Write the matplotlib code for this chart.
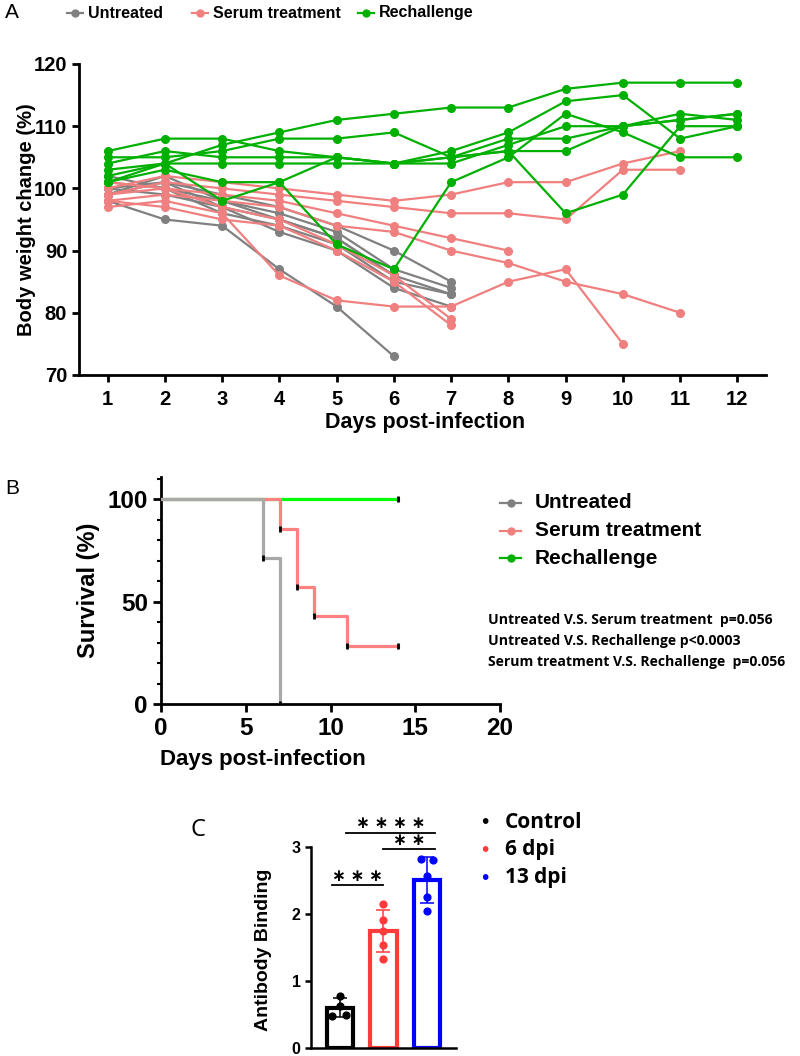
import numpy as np
import matplotlib
matplotlib.use("Agg")
from matplotlib import pyplot as plt
from matplotlib.lines import Line2D

plt.rcParams['font.family'] = ['Liberation Sans', 'DejaVu Sans']

# ---- panel A: body weight (%) per mouse, day 1 onwards
days = list(range(1, 13))
untreated = [
    [98, 95, 94, 87, 81, 73],
    [100, 101, 99, 97, 94, 90, 85],
    [101, 100, 98, 96, 93, 87, 84],
    [99, 101, 97, 95, 92, 86, 83],
    [102, 100, 96, 94, 91, 85, 83],
    [100, 99, 97, 93, 90, 84, 81],
    [99, 102, 98, 95, 92, 86],
]
serum = [
    [100, 102, 101, 100, 99, 98, 99, 101, 101, 104, 106],
    [99, 101, 100, 99, 98, 97, 96, 96, 95, 103, 103],
    [101, 100, 99, 98, 96, 94, 92, 90],
    [98, 99, 98, 97, 94, 93, 90, 88, 85, 83, 80],
    [97, 98, 96, 86, 82, 81, 81, 85, 87, 75],
    [99, 100, 97, 95, 91, 86, 79],
    [98, 97, 95, 94, 90, 85, 78],
]
rechallenge = [
    [101, 104, 107, 109, 111, 112, 113, 113, 116, 117, 117, 117],
    [106, 108, 108, 106, 105, 104, 106, 109, 114, 115, 108, 110],
    [105, 105, 106, 108, 108, 109, 105, 106, 106, 110, 111, 112],
    [103, 104, 104, 104, 104, 104, 104, 107, 110, 110, 112, 111],
    [104, 106, 105, 105, 105, 104, 105, 106, 96, 99, 110, 110],
    [102, 104, 98, 101, 91, 87, 101, 105, 112, 109, 105, 105],
    [101, 103, 101, 101, 105, 104, 105, 108, 108, 110, 111, 112],
]
group_names = ['Untreated', 'Serum treatment', 'Rechallenge']
group_colors = ['#808080', '#F08080', '#00B000']

# ---- panel B: survival (%)
surv_untreated_t = [0, 6, 7]
surv_untreated = [100, 71.4, 0]
surv_serum_t = [0, 7, 8, 9, 11, 14]
surv_serum = [100, 85.7, 57.1, 42.9, 28.6, 28.6]
surv_rech_t = [0, 14]
surv_rech = [100, 100]
pvals = ['Untreated V.S. Serum treatment  p=0.056',
         'Untreated V.S. Rechallenge p<0.0003',
         'Serum treatment V.S. Rechallenge  p=0.056']

# ---- panel C: antibody binding
ab_groups = ['Control', '6 dpi', '13 dpi']
ab_colors = ['black', '#FF3B3B', '#0000FF']
ab_points = [
    [0.78, 0.62, 0.48, 0.49],
    [2.14, 1.91, 1.74, 1.54, 1.33],
    [2.82, 2.80, 2.57, 2.25, 2.04],
]
ab_jitter = [
    [0.0, 0.0, -0.17, 0.13],
    [0.0, 0.0, 0.0, 0.0, 0.0],
    [-0.13, 0.13, 0.0, 0.0, 0.0],
]
ab_mean = [0.60, 1.74, 2.50]
ab_sd = [0.14, 0.31, 0.34]

fig = plt.figure(figsize=(8, 10.56), dpi=100)

# ================= A
ax = fig.add_axes([0.09875, 0.6449, 0.85875, 0.2945])
for series, col in zip([untreated, serum, rechallenge], group_colors):
    for s in series:
        ax.plot(days[:len(s)], s, color=col, lw=1.6, marker='o', ms=5.5, zorder=3)
ax.set_xlim(0.5, 12.5)
ax.set_ylim(70, 120)
ax.set_xticks(days)
ax.set_yticks([70, 80, 90, 100, 110, 120])
for sp in ['top', 'right']:
    ax.spines[sp].set_visible(False)
for sp in ['left', 'bottom']:
    ax.spines[sp].set_linewidth(2)
ax.tick_params(direction='out', length=5, width=2, labelsize=14.5)
ax.tick_params(axis='x', pad=6)
for lb in ax.get_xticklabels() + ax.get_yticklabels():
    lb.set_fontweight('bold')
ax.set_ylabel('Body weight change (%)', fontsize=14.5, fontweight='bold')
ax.yaxis.set_label_coords(-0.063, 0.5)
ax.set_xlabel('Days post-infection', fontsize=15.5, fontweight='bold')
ax.xaxis.set_label_coords(0.504, -0.12)

# top legend, placed by hand
leg_x = [67, 192, 358]
for x0, name, col in zip(leg_x, group_names, group_colors):
    yy = 1 - 13 / 1056
    fig.add_artist(Line2D([x0 / 800, (x0 + 16) / 800], [yy, yy], color=col, lw=1.6))
    fig.add_artist(Line2D([(x0 + 8) / 800], [yy], color=col, marker='o', ms=5))
    fig.text((x0 + 21) / 800, yy, name, fontsize=11.5, fontweight='bold', va='center')
fig.text(0.006, 1 - 13 / 1056, 'A', fontsize=15, va='center')

# ================= B
bx = fig.add_axes([0.20125, 0.3333, 0.42375, 0.215])
bx.step(surv_rech_t, surv_rech, where='post', color='#00FF00', lw=2.3, zorder=2)
bx.step(surv_serum_t, surv_serum, where='post', color='#FF8080', lw=2.3, zorder=3)
bx.step(surv_untreated_t + [7], surv_untreated + [0], where='post', color='#A8A8A8', lw=2.3, zorder=4)
marks_t = [6, 7, 7, 8, 9, 11, 14, 14]
marks_v = [71.4, 0, 85.7, 57.1, 42.9, 28.6, 28.6, 100]
bx.plot(marks_t, marks_v, ls='none', marker='|', color='black', ms=5, mew=2, zorder=5)
bx.set_xlim(0, 20)
bx.set_ylim(0, 111)
bx.set_xticks([0, 5, 10, 15, 20])
bx.set_yticks([0, 50, 100])
bx.set_yticks(np.arange(0, 111, 10), minor=True)
for sp in ['top', 'right']:
    bx.spines[sp].set_visible(False)
for sp in ['left', 'bottom']:
    bx.spines[sp].set_linewidth(2)
bx.tick_params(direction='out', length=6, width=2, labelsize=17.5)
bx.tick_params(which='minor', direction='out', length=3, width=1.5)
for lb in bx.get_xticklabels() + bx.get_yticklabels():
    lb.set_fontweight('bold')
bx.set_ylabel('Survival (%)', fontsize=17, fontweight='bold')
bx.yaxis.set_label_coords(-0.18, 0.5)
bx.set_xlabel('Days post-infection', fontsize=16, fontweight='bold')
bx.xaxis.set_label_coords(0.30, -0.2)
fig.text(0.006, 1 - 488 / 1056, 'B', fontsize=15, va='center')

for i, (name, col) in enumerate(zip(group_names, group_colors)):
    yy = 1 - (503 + 27.5 * i) / 1056
    fig.add_artist(Line2D([500 / 800, 521 / 800], [yy, yy], color=col, lw=1.6))
    fig.add_artist(Line2D([510.5 / 800], [yy], color=col, marker='o', ms=5))
    fig.text(535 / 800, yy, name, fontsize=15, fontweight='bold', va='center')
for i, t in enumerate(pvals):
    fig.text(0.61, 1 - (620 + 21 * i) / 1056, t, fontsize=10.1, fontweight='bold',
             family=['Open Sans', 'DejaVu Sans'], va='center')

# ================= C
cx = fig.add_axes([0.38875, 0.00758, 0.18125, 0.1906])
xpos = np.arange(len(ab_groups))
for i in range(len(ab_groups)):
    cx.bar(xpos[i], ab_mean[i], width=0.6, facecolor='white', edgecolor=ab_colors[i], lw=3, zorder=2)
    cx.errorbar(xpos[i], ab_mean[i], yerr=ab_sd[i], color=ab_colors[i], capsize=5, lw=1.1,
                capthick=1.1, zorder=3)
    cx.scatter(xpos[i] + np.array(ab_jitter[i]), ab_points[i], color=ab_colors[i], s=24, zorder=4)
cx.set_xlim(-0.66, 2.66)
cx.set_ylim(0, 3)
cx.set_xticks([])
cx.set_yticks([0, 1, 2, 3])
for sp in ['top', 'right']:
    cx.spines[sp].set_visible(False)
for sp in ['left', 'bottom']:
    cx.spines[sp].set_linewidth(1.8)
cx.tick_params(direction='out', length=4, width=1.8, labelsize=11.5)
for lb in cx.get_yticklabels():
    lb.set_fontweight('bold')
cx.set_ylabel('Antibody Binding', fontsize=14, fontweight='bold')
cx.yaxis.set_label_coords(-0.27, 0.49)

# significance bars
sig = [(-0.17, 0.98, 2.43, '***'), (0.98, 2.18, 2.96, '**'), (0.15, 2.18, 3.21, '****')]
for x0, x1, yy, lab in sig:
    cx.plot([x0, x1], [yy, yy], color='black', lw=1.3, clip_on=False)
    cx.text((x0 + x1) / 2, yy + 0.02, ' '.join('\u2217' * len(lab)), ha='center', va='bottom',
            fontsize=12, fontweight='bold', clip_on=False)
fig.text(190 / 800, 1 - 830 / 1056, 'C', fontsize=17, va='center', family=['Open Sans', 'DejaVu Sans'])

for i, (g, c) in enumerate(zip(ab_groups, ab_colors)):
    yy = 1 - (822 + 28 * i) / 1056
    fig.text(485 / 800, yy, '\u2022', color=c, fontsize=15, va='center', ha='center')
    fig.text(505 / 800, yy, g, fontsize=15, fontweight='bold', va='center',
             family=['Open Sans', 'DejaVu Sans'])

fig.savefig('out.png', dpi=100)
